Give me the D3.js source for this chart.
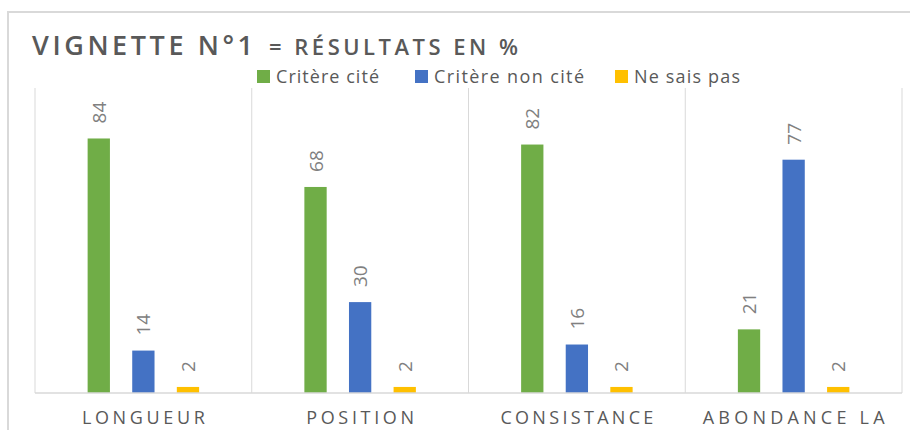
<!DOCTYPE html>
<html><head><meta charset="utf-8">
<script src="https://cdn.jsdelivr.net/npm/d3@7"></script>
<style>
body{margin:0;background:#fff;}
svg{display:block;}
text{font-family:"Open Sans",sans-serif;}
</style></head>
<body><svg id="chart" width="910" height="430"></svg>
<script>
const categories = ["LONGUEUR", "POSITION", "CONSISTANCE", "ABONDANCE LA"];
const seriesNames = ["Critère cité", "Critère non cité", "Ne sais pas"];
const citeValues = [84, 68, 82, 21];
const nonCiteValues = [14, 30, 16, 77];
const nspValues = [2, 2, 2, 2];
const seriesColors = ["#70AD47", "#4472C4", "#FFC000"];
const titleMain = "VIGNETTE N°1";
const titleSub = "= RÉSULTATS EN %";

const seriesValues = [citeValues, nonCiteValues, nspValues];
const data = categories.map((c, i) => ({cat: c, vals: seriesNames.map((s, j) => ({s, v: seriesValues[j][i], j}))}));

const svg = d3.select("#chart");
const W = 910, H = 430;
const plot = {left: 35, right: 902, top: 88, bottom: 393};

// outer frame
svg.append("path").attr("d", `M8,${H} L8,12 L${W},12`).attr("fill", "none").attr("stroke", "#d9d9d9").attr("stroke-width", 2);

const x0 = d3.scaleBand().domain(categories).range([plot.left, plot.right]).padding(0);
const x1 = d3.scaleBand().domain(seriesNames).range([0, x0.bandwidth()]).paddingInner(0.5).paddingOuter(1.18);
const y = d3.scaleLinear().domain([0, 100]).range([plot.bottom, plot.bottom - 303]);

// fit a text element to a width
function fit(sel, w) {
  sel.each(function() {
    const n = this.getComputedTextLength();
    d3.select(this).attr("textLength", w).attr("lengthAdjust", n > w ? "spacingAndGlyphs" : "spacing");
  });
}

// vertical gridlines at category boundaries
const bounds = categories.map(c => x0(c)).concat([x0(categories[categories.length - 1]) + x0.bandwidth()]);
svg.append("g").selectAll("line").data(bounds).join("line")
  .attr("x1", d => d).attr("x2", d => d).attr("y1", plot.top).attr("y2", plot.bottom)
  .attr("stroke", "#d9d9d9").attr("stroke-width", 1);

// bars
const groups = svg.append("g").selectAll("g").data(data).join("g")
  .attr("transform", d => `translate(${x0(d.cat)},0)`);
groups.selectAll("rect").data(d => d.vals).join("rect")
  .attr("x", d => x1(d.s)).attr("width", x1.bandwidth())
  .attr("y", d => y(d.v)).attr("height", d => y(0) - y(d.v))
  .attr("fill", d => seriesColors[d.j]);

// value labels (rotated)
groups.selectAll("text").data(d => d.vals).join("text")
  .attr("transform", d => `translate(${x1(d.s) + x1.bandwidth() / 2},${y(d.v) - 15}) rotate(-90)`)
  .attr("text-anchor", "start").attr("dominant-baseline", "central")
  .attr("font-size", 19).attr("fill", "#808080")
  .text(d => d.v);

// baseline
svg.append("line").attr("x1", plot.left).attr("x2", plot.right).attr("y1", plot.bottom).attr("y2", plot.bottom)
  .attr("stroke", "#d9d9d9").attr("stroke-width", 1.5);

// category axis labels
const catWidths = [123, 108, 153, 182];
const xAxis = d3.axisBottom(x0).tickSize(0).tickPadding(0);
const ax = svg.append("g").attr("transform", `translate(0,${plot.bottom})`).call(xAxis);
ax.select(".domain").remove();
ax.selectAll("text").attr("y", 31).attr("dy", null).attr("font-size", 18)
  .attr("fill", "#595959").attr("font-family", null)
  .each(function(d, i) { fit(d3.select(this), catWidths[i]); });

// title
svg.append("text").attr("x", 32).attr("y", 55).attr("fill", "#595959")
  .attr("font-size", 27).attr("font-weight", 600).text(titleMain).call(fit, 221);
svg.append("text").attr("x", 269).attr("y", 55).attr("fill", "#595959")
  .attr("font-size", 22).attr("font-weight", 600).text(titleSub).call(fit, 249);

// legend
const legendX = [257, 415, 615];
const legendW = [103, 150, 106];
const lg = svg.append("g").selectAll("g").data(seriesNames).join("g")
  .attr("transform", (d, i) => `translate(${legendX[i]},70)`);
lg.append("rect").attr("width", 13).attr("height", 13).attr("fill", (d, i) => seriesColors[i]);
lg.append("text").attr("x", 19).attr("y", 13).attr("font-size", 18).attr("fill", "#595959").text(d => d)
  .each(function(d, i) { fit(d3.select(this), legendW[i]); });
</script></body></html>
